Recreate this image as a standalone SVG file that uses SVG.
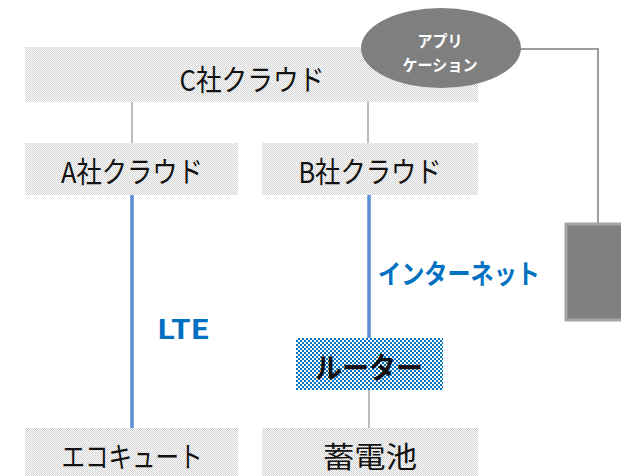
<svg xmlns="http://www.w3.org/2000/svg" width="621" height="476" viewBox="0 0 621 476">
<defs>
<pattern id="dots" width="2" height="2" patternUnits="userSpaceOnUse">
<rect width="2" height="2" fill="#FFFFFF"/>
<rect width="1" height="1" fill="#D0D0D0"/>
<rect x="1" y="1" width="1" height="1" fill="#D0D0D0"/>
</pattern>
<pattern id="blue" width="4" height="4" patternUnits="userSpaceOnUse">
<rect width="4" height="4" fill="#FFFFFF"/>
<rect width="2" height="2" fill="#0070C0"/>
<rect x="2" y="2" width="2" height="2" fill="#0070C0"/>
</pattern>
</defs>
<style>
.box{fill:url(#dots);}
.lbl{font-family:"Noto Sans CJK JP","Liberation Sans",sans-serif;font-size:29px;fill:#111;text-anchor:middle;dominant-baseline:central;}
.net{font-family:"Noto Sans CJK JP","Liberation Sans",sans-serif;font-size:27px;font-weight:bold;fill:#0070C0;dominant-baseline:central;}
.app{font-family:"Noto Sans CJK JP","Liberation Sans",sans-serif;font-size:16px;font-weight:bold;fill:#FFFFFF;text-anchor:middle;dominant-baseline:central;}
.gl{stroke:#A6A6A6;stroke-width:1.5;fill:none;}
.bl{stroke:#5B8ED6;stroke-width:3.5;fill:none;}
.dl{stroke:#7F7F7F;stroke-width:1.5;fill:none;}
</style>
<g id="connectors">
<line class="gl" x1="132" y1="102" x2="132" y2="143"/>
<line class="gl" x1="368" y1="102" x2="368" y2="143"/>
<line class="bl" x1="132" y1="195" x2="132" y2="428"/>
<line class="bl" x1="369" y1="195" x2="369" y2="338"/>
<line class="gl" x1="369" y1="390" x2="369" y2="428"/>
<polyline class="dl" points="519,49 598,49 598,224"/>
<text class="net" x="157" y="327" textLength="53" lengthAdjust="spacingAndGlyphs">LTE</text>
<text class="net" x="378" y="272" textLength="162" lengthAdjust="spacingAndGlyphs">インターネット</text>
</g>
<g id="c-cloud">
<rect class="box" x="25" y="47" width="453" height="55"/>
<text class="lbl" x="252" y="78" textLength="145" lengthAdjust="spacingAndGlyphs">C社クラウド</text>
</g>
<g id="app">
<ellipse cx="441" cy="48" rx="80" ry="40" fill="#7F7F7F"/>
<text class="app" x="440" y="40" textLength="45" lengthAdjust="spacingAndGlyphs">アプリ</text>
<text class="app" x="440" y="64" textLength="75" lengthAdjust="spacingAndGlyphs">ケーション</text>
</g>
<g id="a-cloud">
<rect class="box" x="25" y="143" width="213" height="52"/>
<text class="lbl" x="132" y="170" textLength="142" lengthAdjust="spacingAndGlyphs">A社クラウド</text>
</g>
<g id="b-cloud">
<rect class="box" x="262" y="143" width="216" height="52"/>
<text class="lbl" x="370" y="170" textLength="143" lengthAdjust="spacingAndGlyphs">B社クラウド</text>
</g>
<g id="router">
<rect x="296" y="338" width="147" height="52" fill="url(#blue)"/>
<text class="lbl" x="369" y="366" font-weight="bold" fill="#000" textLength="108" lengthAdjust="spacingAndGlyphs">ルーター</text>
</g>
<g id="ecocute">
<rect class="box" x="25" y="428" width="213" height="48"/>
<text class="lbl" x="132" y="455" textLength="141" lengthAdjust="spacingAndGlyphs">エコキュート</text>
</g>
<g id="battery">
<rect class="box" x="262" y="428" width="216" height="48"/>
<text class="lbl" x="370" y="455" textLength="94" lengthAdjust="spacingAndGlyphs">蓄電池</text>
</g>
<g id="device">
<rect x="566" y="224" width="60" height="96" fill="#7F7F7F" stroke="#A6A6A6" stroke-width="3"/>
</g>
</svg>
